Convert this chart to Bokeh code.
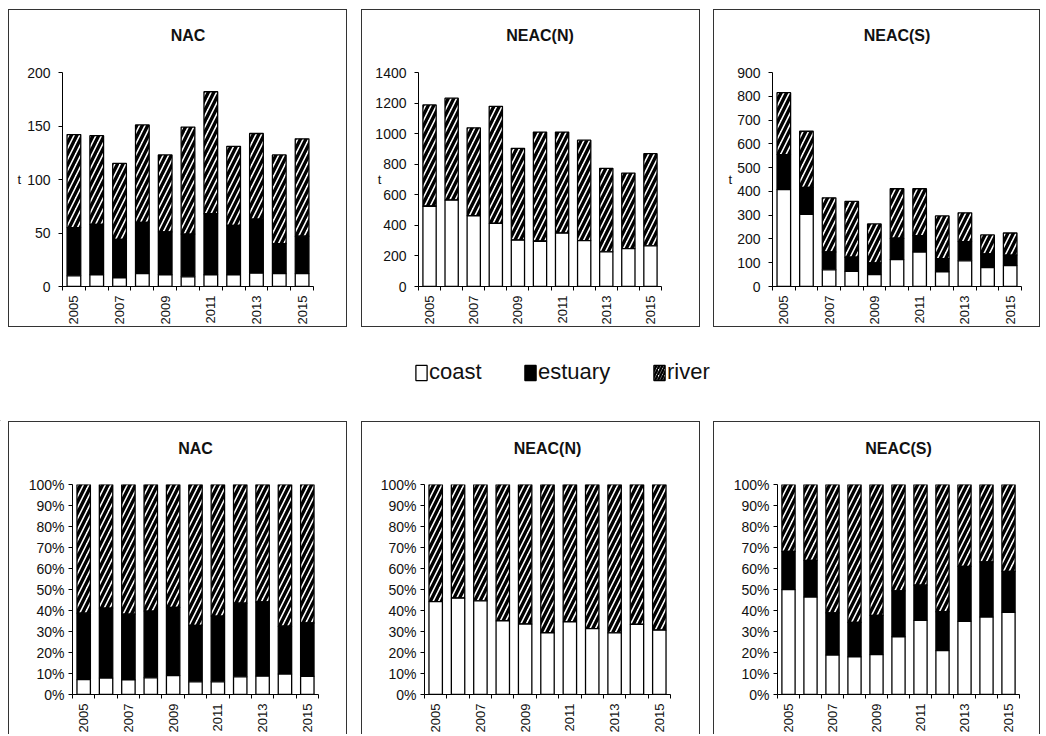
import numpy as np
from bokeh.plotting import figure
from bokeh.models import (ColumnDataSource, FixedTicker, NumeralTickFormatter, BasicTickFormatter,
                          Legend, LegendItem, Range1d, Spacer)
from bokeh.layouts import row, column
from bokeh.embed import file_html
from bokeh.resources import INLINE

# ---------------- data ----------------
years = [2005, 2006, 2007, 2008, 2009, 2010, 2011, 2012, 2013, 2014, 2015]
labelled_years = [2005, 2007, 2009, 2011, 2013, 2015]
series_names = ["coast", "estuary", "river"]

nac_coast = [10, 11, 8, 12, 11, 9, 11, 11, 12.5, 12, 12]
nac_estuary = [45, 47, 36, 48, 40, 40, 57, 46, 50.5, 28, 35]
nac_river = [87, 83, 71, 91, 72, 100, 114, 74, 80, 83, 91]

neacn_coast = [525, 565, 463, 413, 303, 296, 349, 300, 227, 248, 266]
neacn_estuary = [0, 0, 0, 0, 0, 0, 0, 0, 0, 0, 0]
neacn_river = [663, 667, 575, 766, 601, 714, 661, 657, 546, 494, 603]

neacs_coast = [407, 303, 70, 64, 50, 113, 145, 62, 108, 80, 88]
neacs_estuary = [148, 114, 75, 59, 49, 90, 69, 55, 81, 57, 44]
neacs_river = [260, 236, 228, 235, 164, 208, 197, 180, 121, 80, 93]

nac_yticks = [0, 50, 100, 150, 200]
neacn_yticks = [0, 200, 400, 600, 800, 1000, 1200, 1400]
neacs_yticks = [0, 100, 200, 300, 400, 500, 600, 700, 800, 900]
pct_yticks = [0, 0.1, 0.2, 0.3, 0.4, 0.5, 0.6, 0.7, 0.8, 0.9, 1.0]

FONT = "Liberation Sans"
BORDER = "1px solid #333"


def make_panel(title, coast, estuary, river, yticks, pct, w, h, ml, mr, mt, mb,
               title_standoff, ylab_standoff, t_standoff=None, border_bottom=True):
    coast = np.array(coast, float)
    estuary = np.array(estuary, float)
    river = np.array(river, float)
    if pct:
        tot = coast + estuary + river
        coast, estuary, river = coast / tot, estuary / tot, river / tot
    c1 = coast
    e1 = coast + estuary
    r1 = e1 + river
    src = ColumnDataSource(dict(x=years, c0=np.zeros(len(years)), c1=c1, e1=e1, r1=r1))
    ymax = yticks[-1]
    p = figure(width=w, height=h, x_range=Range1d(2004.5, 2015.5), y_range=Range1d(0, ymax),
               output_backend="svg", toolbar_location=None,
               min_border_left=ml, min_border_right=mr, min_border_top=mt, min_border_bottom=mb,
               title=title + "\n")
    p.grid.visible = False
    p.outline_line_color = None
    p.background_fill_color = "white"
    p.border_fill_color = "white"

    p.vbar(x="x", bottom="e1", top="r1", width=0.6, source=src, fill_color="white",
           hatch_pattern="/", hatch_color="black", hatch_scale=11, hatch_weight=3.4,
           line_color="black", line_width=1.3)
    p.vbar(x="x", bottom="c1", top="e1", width=0.6, source=src, fill_color="black",
           line_color="black", line_width=1.3)
    p.vbar(x="x", bottom="c0", top="c1", width=0.6, source=src, fill_color="white",
           line_color="black", line_width=1.3)

    p.title.align = "center"
    p.title.text_font = FONT
    p.title.text_font_size = "16px"
    p.title.text_font_style = "bold"
    p.title.text_color = "#111"
    p.title.standoff = title_standoff

    xa = p.xaxis[0]
    xa.ticker = FixedTicker(ticks=labelled_years,
                            minor_ticks=[y - 0.5 for y in years] + [years[-1] + 0.5])
    xa.formatter = BasicTickFormatter(use_scientific=False)
    xa.major_label_orientation = np.pi / 2
    xa.major_tick_out = 0
    xa.major_tick_in = 0
    xa.minor_tick_out = 4
    xa.minor_tick_in = 0
    xa.major_label_standoff = 5
    xa.major_label_text_font = FONT
    xa.major_label_text_font_size = "13px"
    xa.major_label_text_color = "#111"
    xa.axis_line_color = "black"
    xa.minor_tick_line_color = "black"

    ya = p.yaxis[0]
    ya.ticker = FixedTicker(ticks=yticks, minor_ticks=[])
    if pct:
        ya.formatter = NumeralTickFormatter(format="0%")
    else:
        ya.formatter = BasicTickFormatter(use_scientific=False)
    ya.major_tick_out = 4
    ya.major_tick_in = 0
    ya.minor_tick_out = 0
    ya.minor_tick_in = 0
    ya.major_label_standoff = ylab_standoff
    ya.major_label_text_font = FONT
    ya.major_label_text_font_size = "14px"
    ya.major_label_text_color = "#111"
    ya.axis_line_color = "black"
    ya.major_tick_line_color = "black"

    if t_standoff is not None:
        ya.axis_label = "t"
        ya.axis_label_orientation = "horizontal"
        ya.axis_label_standoff = t_standoff
        ya.axis_label_text_font = FONT
        ya.axis_label_text_font_size = "13px"
        ya.axis_label_text_font_style = "normal"
        ya.axis_label_text_color = "#111"

    st = {"border-top": BORDER, "border-left": BORDER, "border-right": BORDER}
    if border_bottom:
        st["border-bottom"] = BORDER
    p.styles = st
    return p


# top row (absolute values)
TH = 318
t1 = make_panel("NAC", nac_coast, nac_estuary, nac_river, nac_yticks, False,
                339, TH, 53, 35, 62, 42, 23, 8, t_standoff=3)
t2 = make_panel("NEAC(N)", neacn_coast, neacn_estuary, neacn_river, neacn_yticks, False,
                339, TH, 56, 40, 62, 42, 23, 8, t_standoff=-9)
t3 = make_panel("NEAC(S)", neacs_coast, neacs_estuary, neacs_river, neacs_yticks, False,
                327, TH, 58, 20, 62, 42, 23, 8, t_standoff=2)

# bottom row (shares)
BH = 313
b1 = make_panel("NAC", nac_coast, nac_estuary, nac_river, pct_yticks, True,
                339, BH, 63, 30, 62, 38, 22, 4, border_bottom=False)
b2 = make_panel("NEAC(N)", neacn_coast, neacn_estuary, neacn_river, pct_yticks, True,
                339, BH, 62, 31, 62, 38, 22, 4, border_bottom=False)
b3 = make_panel("NEAC(S)", neacs_coast, neacs_estuary, neacs_river, pct_yticks, True,
                327, BH, 63, 22, 62, 38, 22, 4, border_bottom=False)

# legend strip
lf = figure(width=1046, height=92, x_range=Range1d(0, 1), y_range=Range1d(0, 1),
            output_backend="svg", toolbar_location=None, min_border=0,
            x_axis_type=None, y_axis_type=None)
lf.outline_line_color = None
lf.grid.visible = False
off = dict(x=[-50], top=[-50], bottom=[-60])
r_coast = lf.vbar(x="x", top="top", bottom="bottom", source=ColumnDataSource(off), width=0.5,
                  fill_color="white", line_color="black", line_width=1.3)
r_est = lf.vbar(x="x", top="top", bottom="bottom", source=ColumnDataSource(off), width=0.5,
                fill_color="black", line_color="black", line_width=1.3)
r_riv = lf.vbar(x="x", top="top", bottom="bottom", source=ColumnDataSource(off), width=0.5,
                fill_color="white", hatch_pattern="/", hatch_color="black", hatch_scale=6,
                hatch_weight=2.4, line_color="black", line_width=1.3)
for name, rend, xpos in zip(series_names, [r_coast, r_est, r_riv], [414, 523, 652]):
    leg = Legend(items=[LegendItem(label=name, renderers=[rend])], location=(xpos, 36),
                 orientation="horizontal", border_line_color=None, background_fill_alpha=0,
                 padding=0, margin=0, spacing=0, label_standoff=1, glyph_width=14,
                 glyph_height=19, label_height=22, label_text_font=FONT,
                 label_text_font_size="22px", label_text_color="#111")
    lf.add_layout(leg)

layout = column(
    Spacer(width=1046, height=9),
    row(Spacer(width=8, height=320), t1, Spacer(width=14, height=320), t2,
        Spacer(width=13, height=320), t3),
    lf,
    row(Spacer(width=8, height=314), b1, Spacer(width=14, height=314), b2,
        Spacer(width=13, height=314), b3),
)

open("out.html", "w").write(file_html(layout, INLINE))
